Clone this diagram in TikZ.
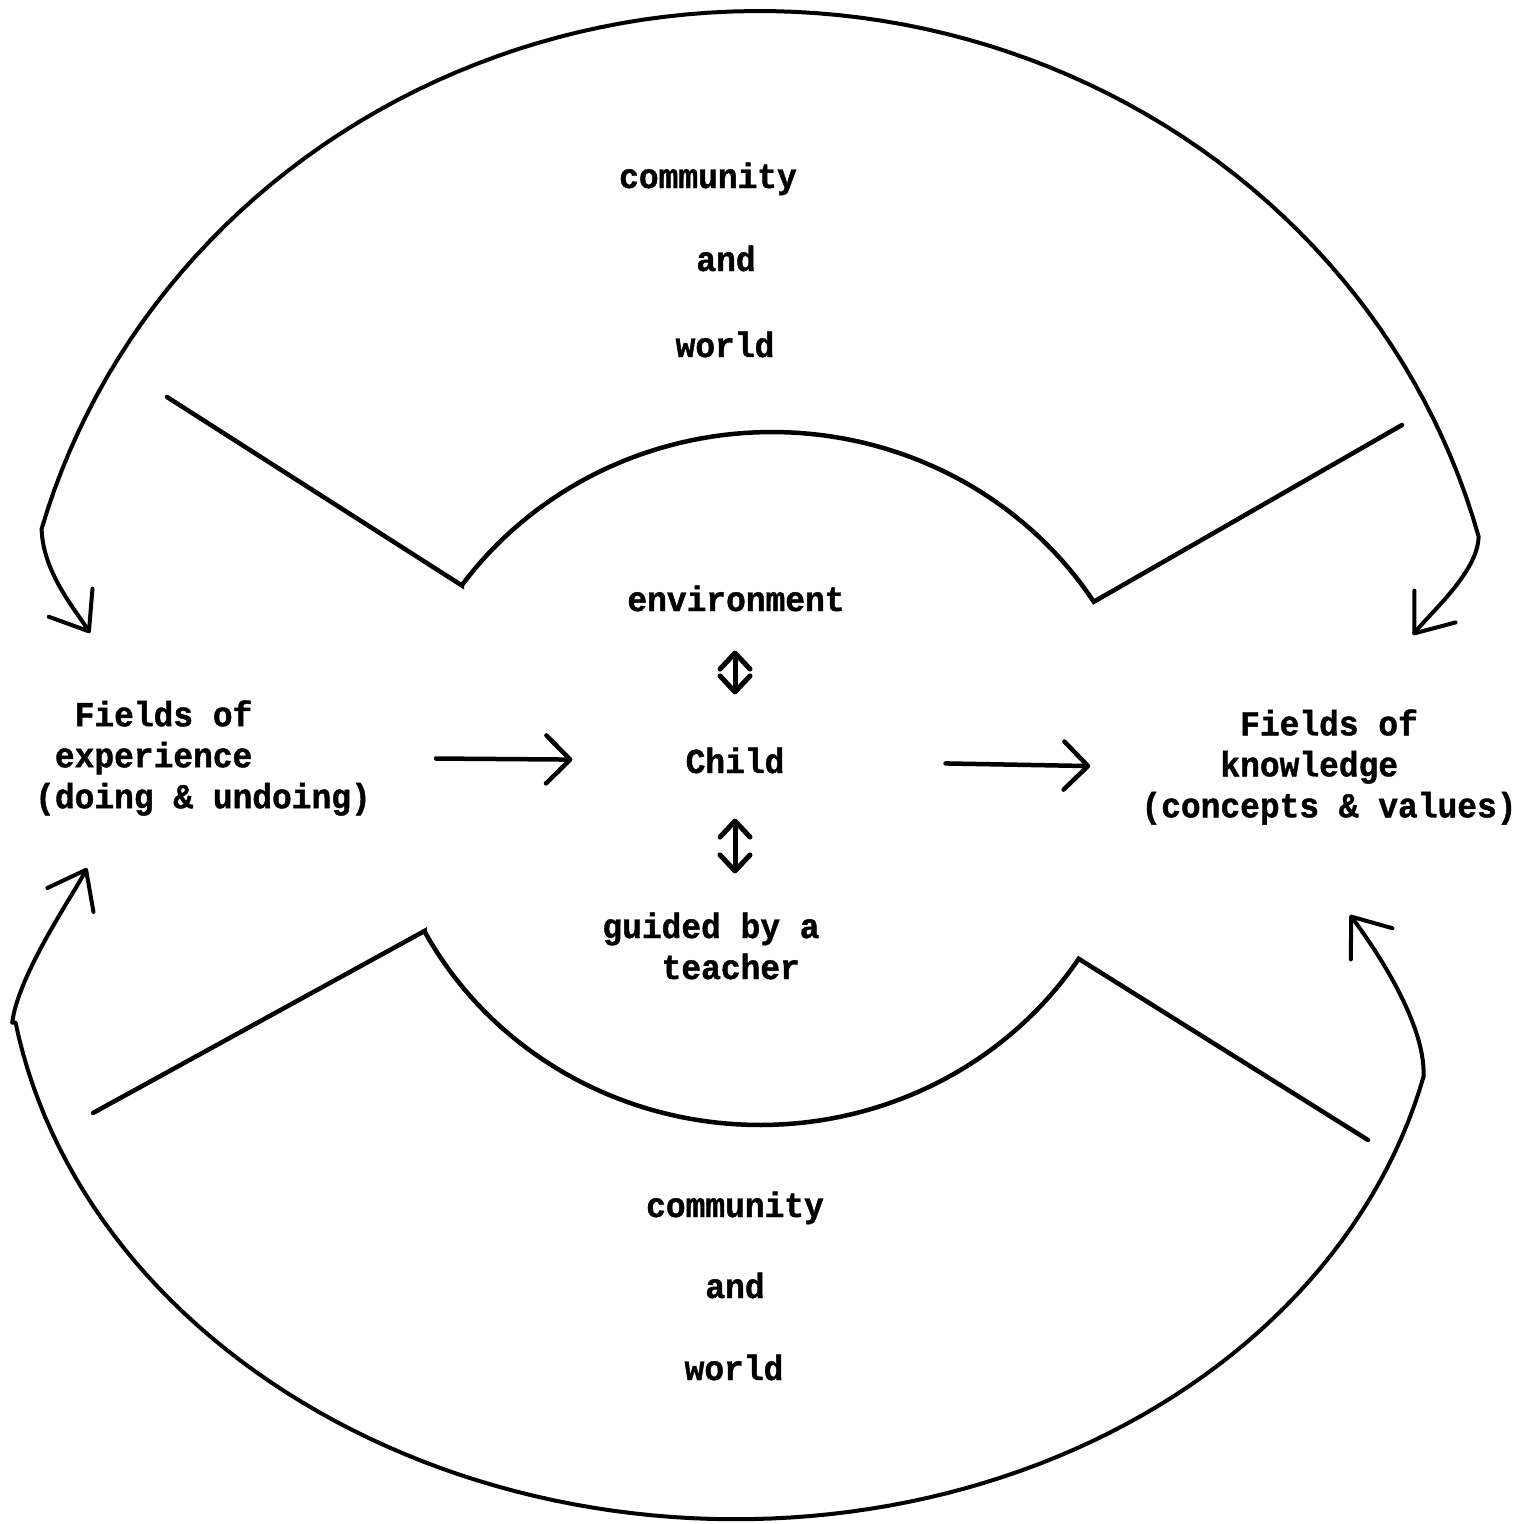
\documentclass[tikz,border=0pt]{standalone}
\usepackage{fontspec}
\setmonofont{Liberation Mono}[FakeStretch=0.94, BoldFeatures={FakeBold=1.2}]
\usetikzlibrary{arrows.meta}
\begin{document}
\begin{tikzpicture}[x=1pt,y=-1pt,
  txt/.style={font=\ttfamily\bfseries\fontsize{35}{41}\selectfont, inner sep=0pt, align=left},
  curve/.style={line width=4pt, line cap=round, line join=round},
  shapeline/.style={line width=4.5pt, line cap=round, line join=miter},
  bigarr/.style={curve, {Straight Barb[length=34pt,width=52pt,round]}-{Straight Barb[length=34pt,width=52pt,round]}},
  harr/.style={line width=4.5pt, line cap=round, -{Straight Barb[length=24pt,width=48pt,round]}},
  varr/.style={line width=5pt, line cap=round, {Straight Barb[length=16pt,width=30pt,round]}-{Straight Barb[length=16pt,width=30pt,round]}}
]
\useasboundingbox (0,0) rectangle (1536,1523);

% text
\node[txt, anchor=base] (comT)   at (708,188)  {community};
\node[txt, anchor=base] (andT)   at (726,271)  {and};
\node[txt, anchor=base] (worldT) at (725,357)  {world};
\node[txt, anchor=base] (env)    at (736,611)  {environment};
\node[txt, anchor=base] (child)  at (735,773)  {Child};
\node[txt] (guided) at (711,946) {guided by a\\\phantom{xxx}teacher};
\node[txt] (leftF)  at (203,758) {\phantom{xx}Fields of\\\phantom{x}experience\\(doing \& undoing)};
\node[txt] (rightF) at (1329,767) {\phantom{xxxxx}Fields of\\\phantom{xxxx}knowledge\\(concepts \& values)};
\node[txt, anchor=base] (comB)   at (735,1217) {community};
\node[txt, anchor=base] (andB)   at (735,1298) {and};
\node[txt, anchor=base] (worldB) at (734,1380) {world};

% arrow end points of the big curves
\coordinate (tipTL) at (90,633);
\coordinate (tipTR) at (1413,635);
\coordinate (tipBL) at (87,868);
\coordinate (tipBR) at (1350,915);

% top big curve (community and world -> both fields)
\draw[bigarr] (tipTL) .. controls (74,608) and (43,572) .. (41.6,529)
  -- plot[domain=195.6:345, samples=90, variable=\t] ({759+745*cos(\t)},{720+709*sin(\t)})
  .. controls (1478,572) and (1430,613) .. (tipTR);

% bottom big curve
\draw[bigarr] (tipBL) .. controls (73,895) and (18,975) .. (12.2,1022.7)
  -- plot[domain=168.6:11.4, samples=100, variable=\t] ({724+718.2*cos(\t)-22.5*sin(\t)},{934+27.6*cos(\t)+584.6*sin(\t)})
  .. controls (1426,1020) and (1368,939) .. (tipBR);

% inner top shape
\draw[shapeline] (167,397) -- (461.8,585.4)
  -- plot[domain=215.7:327.4, samples=70, variable=\t] ({772+382*cos(\t)},{800+368*sin(\t)})
  -- (1402,425);

% inner bottom shape
\draw[shapeline] (93,1113) -- (424.5,931)
  -- plot[domain=152:33, samples=70, variable=\t] ({760+380*cos(\t)},{760+365*sin(\t)})
  -- (1368,1140);

% central arrows
\draw[harr, shorten <=65pt, shorten >=113pt] (leftF.east) -- (child.west);
\draw[harr, shorten <=161pt, shorten >=51pt] (child.east) -- (rightF.west);
\draw[varr, shorten <=39pt, shorten >=53pt] (env.south -| child.south) -- (child.north);
\draw[varr, shorten <=45pt, shorten >=39pt] (child.south) -- (child.south |- guided.north);
\end{tikzpicture}
\end{document}
